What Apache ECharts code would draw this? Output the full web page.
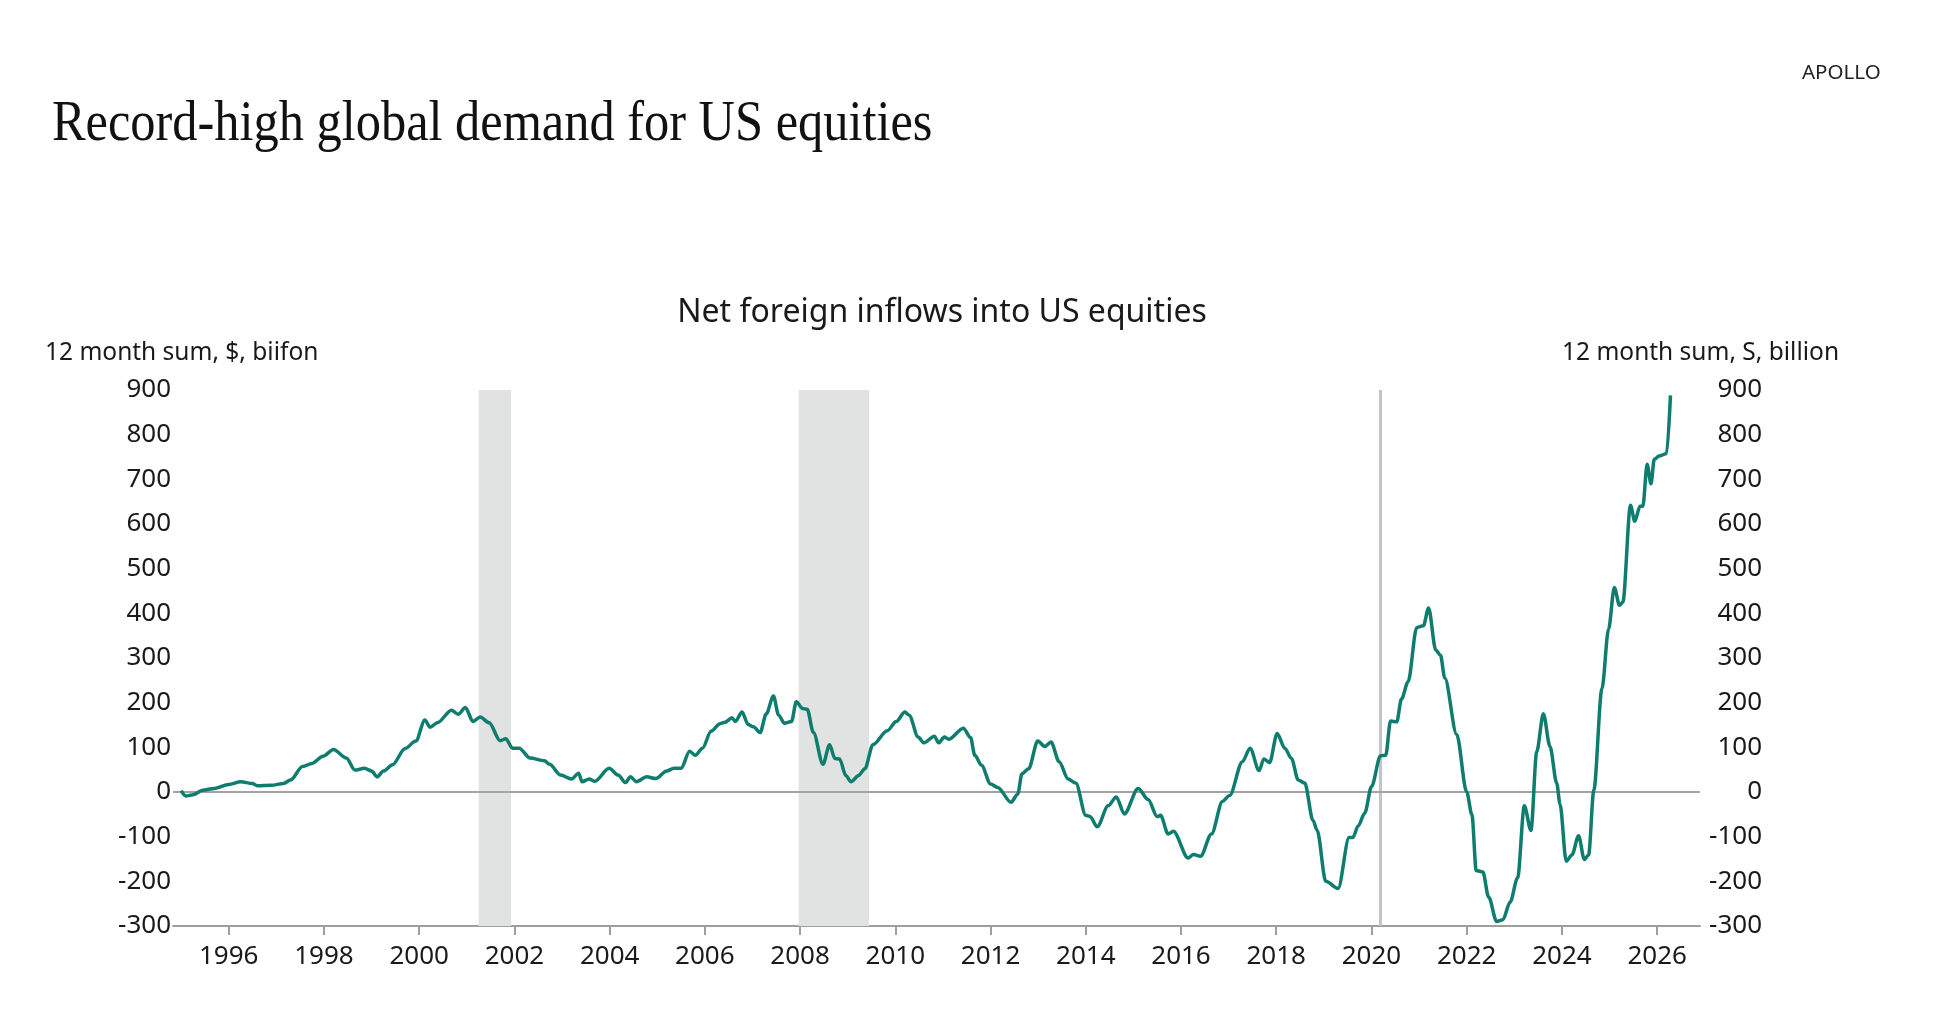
<!DOCTYPE html>
<html>
<head>
<meta charset="utf-8">
<title>Record-high global demand for US equities</title>
<script src="https://cdn.jsdelivr.net/npm/echarts@6/dist/echarts.min.js"></script>
<style>
  html, body { margin: 0; padding: 0; background: #fff; }
  #main { width: 1939px; height: 1031px; }
</style>
</head>
<body>
<div id="main"></div>
<script>
// dates as decimal years, values in $ billion (12 month sum)
var dates = [
  1995.0, 1995.1, 1995.25, 1995.45, 1995.7, 1996.0, 1996.25, 1996.5, 1996.6, 1996.9,
  1997.15, 1997.3, 1997.55, 1997.75, 1997.98, 1998.2, 1998.47, 1998.65, 1998.85, 1999.0,
  1999.12, 1999.25, 1999.44, 1999.7, 1999.93, 2000.12, 2000.23, 2000.38, 2000.68, 2000.82,
  2000.97, 2001.13, 2001.28, 2001.47, 2001.7, 2001.82, 2001.96, 2002.1, 2002.33, 2002.63,
  2002.74, 2002.97, 2003.2, 2003.35, 2003.42, 2003.57, 2003.69, 2003.99, 2004.18, 2004.33,
  2004.44, 2004.56, 2004.78, 2004.97, 2005.2, 2005.35, 2005.5, 2005.68, 2005.8, 2005.95,
  2006.13, 2006.32, 2006.42, 2006.57, 2006.64, 2006.78, 2006.91, 2007.02, 2007.16, 2007.29,
  2007.44, 2007.55, 2007.67, 2007.82, 2007.92, 2008.05, 2008.15, 2008.28, 2008.48, 2008.62,
  2008.73, 2008.83, 2008.96, 2009.07, 2009.23, 2009.36, 2009.53, 2009.83, 2010.02, 2010.2,
  2010.29, 2010.48, 2010.6, 2010.82, 2010.91, 2011.03, 2011.12, 2011.43, 2011.58, 2011.67,
  2011.81, 2012.0, 2012.15, 2012.43, 2012.57, 2012.66, 2012.8, 2012.99, 2013.14, 2013.27,
  2013.44, 2013.63, 2013.79, 2014.0, 2014.09, 2014.24, 2014.47, 2014.64, 2014.81, 2015.1,
  2015.31, 2015.5, 2015.57, 2015.73, 2015.84, 2016.15, 2016.26, 2016.41, 2016.64, 2016.87,
  2017.02, 2017.29, 2017.45, 2017.64, 2017.74, 2017.86, 2018.02, 2018.18, 2018.32, 2018.46,
  2018.6, 2018.77, 2018.86, 2019.04, 2019.3, 2019.53, 2019.61, 2019.72, 2019.86, 2020.0,
  2020.19, 2020.3, 2020.4, 2020.53, 2020.63, 2020.77, 2020.95, 2021.09, 2021.2, 2021.35,
  2021.45, 2021.54, 2021.79, 2022.0, 2022.11, 2022.2, 2022.34, 2022.46, 2022.63, 2022.76,
  2022.91, 2023.07, 2023.21, 2023.35, 2023.47, 2023.61, 2023.75, 2023.89, 2023.96, 2024.09,
  2024.21, 2024.35, 2024.47, 2024.56, 2024.67, 2024.84, 2024.98, 2025.1, 2025.21, 2025.28,
  2025.44, 2025.53, 2025.64, 2025.7, 2025.79, 2025.87, 2025.94, 2026.04, 2026.2, 2026.28
];
var flows = [
  3, -9, -6, 4, 8, 17, 23, 19, 14, 15,
  19, 27, 57, 64, 80, 95, 76, 49, 53, 47,
  34, 47, 61, 97, 114, 161, 145, 155, 183, 174,
  189, 158, 168, 155, 115, 119, 98, 98, 76, 70,
  62, 38, 29, 42, 23, 29, 24, 53, 38, 21,
  34, 23, 34, 30, 47, 53, 53, 91, 82, 98,
  136, 153, 156, 166, 158, 179, 151, 146, 133, 175,
  215, 172, 154, 158, 202, 187, 185, 133, 62, 106,
  75, 74, 37, 23, 37, 52, 106, 137, 158, 179,
  172, 123, 110, 125, 110, 123, 118, 143, 122, 82,
  60, 18, 10, -23, -5, 41, 52, 114, 102, 112,
  68, 29, 20, -52, -55, -78, -31, -11, -49, 8,
  -17, -55, -52, -94, -88, -148, -140, -144, -94, -21,
  -8, 68, 98, 48, 74, 66, 131, 98, 75, 27,
  20, -63, -86, -200, -216, -102, -102, -76, -47, 12,
  81, 82, 159, 157, 208, 247, 368, 372, 412, 318,
  306, 255, 129, 0, -51, -176, -179, -235, -290, -286,
  -247, -192, -31, -86, 90, 175, 102, 20, -27, -155,
  -141, -98, -151, -141, 4, 231, 365, 458, 418, 425,
  642, 606, 640, 640, 734, 690, 745, 752, 758, 888
];
var yearTicks = [1996, 1998, 2000, 2002, 2004, 2006, 2008, 2010, 2012, 2014, 2016, 2018, 2020, 2022, 2024, 2026];
var recessions = [[2001.25, 2001.93], [2007.97, 2009.45]];
var covidLine = 2020.19;

var seriesData = dates.map(function (d, i) { return [d, flows[i]]; });

var myChart = echarts.init(document.getElementById("main"));
var txt = "#1a1a1a";
var axisGrey = "#9e9e9e";

var option = {
  backgroundColor: "#ffffff",
  animation: false,
  grid: { left: 173, right: 239, top: 390, bottom: 105 },
  graphic: [
    {
      type: "text", left: 52, top: 97, scaleX: 0.9,
      style: { text: "Record-high global demand for US equities", font: "56px 'Liberation Serif'", fill: "#111" }
    },
    {
      type: "text", left: 1802, top: 64, scaleX: 1.08,
      style: { text: "APOLLO", font: "19px 'Noto Sans'", fill: "#222" }
    },
    {
      type: "text", left: 45, top: 341,
      style: { text: "12 month sum, $, biifon", font: "24.5px 'Noto Sans'", fill: txt }
    },
    {
      type: "text", left: 1562, top: 341,
      style: { text: "12 month sum, S, billion", font: "24.5px 'Noto Sans'", fill: txt }
    }
  ],
  title: {
    text: "Net foreign inflows into US equities",
    left: 937, top: 292, textAlign: "center",
    textStyle: { fontFamily: "Noto Sans", fontSize: 32, fontWeight: "normal", color: txt }
  },
  xAxis: {
    type: "value",
    min: 1994.83,
    max: 2026.9,
    axisLine: { onZero: false, lineStyle: { color: axisGrey, width: 2 } },
    axisTick: { customValues: yearTicks, length: 9, lineStyle: { color: axisGrey, width: 2 } },
    axisLabel: {
      customValues: yearTicks, margin: 18,
      fontFamily: "Noto Sans", fontSize: 26, color: txt,
      formatter: function (v) { return String(v); }
    },
    splitLine: { show: false }
  },
  yAxis: [
    {
      type: "value", min: -300, max: 900, interval: 100, position: "left",
      axisLine: { show: false }, axisTick: { show: false }, splitLine: { show: false },
      axisLabel: { margin: 2, fontFamily: "Noto Sans", fontSize: 26, color: txt }
    },
    {
      type: "value", min: -300, max: 900, interval: 100, position: "right",
      axisLine: { show: false }, axisTick: { show: false }, splitLine: { show: false },
      axisLabel: { margin: 62, align: "right", fontFamily: "Noto Sans", fontSize: 26, color: txt }
    }
  ],
  series: [
    {
      // background: recession shading, 2020 marker, zero line
      type: "line",
      data: seriesData,
      z: 1,
      silent: true,
      showSymbol: false,
      lineStyle: { width: 0, opacity: 0 },
      markArea: {
        silent: true,
        itemStyle: { color: "#e1e3e3" },
        data: recessions.map(function (r) { return [{ xAxis: r[0] }, { xAxis: r[1] }]; })
      },
      markLine: {
        silent: true,
        symbol: "none",
        label: { show: false },
        data: [
          { xAxis: covidLine, lineStyle: { color: "#c4c4c4", width: 3, type: "solid" } },
          { yAxis: 0, lineStyle: { color: "#a3a3a3", width: 2, type: "solid" } }
        ]
      }
    },
    {
      name: "Net foreign inflows",
      type: "line",
      data: seriesData,
      z: 5,
      showSymbol: false,
      smooth: 0.3,
      smoothMonotone: "x",
      lineStyle: { color: "#0e7d6e", width: 3.5 }
    }
  ]
};
myChart.setOption(option);
</script>
</body>
</html>
